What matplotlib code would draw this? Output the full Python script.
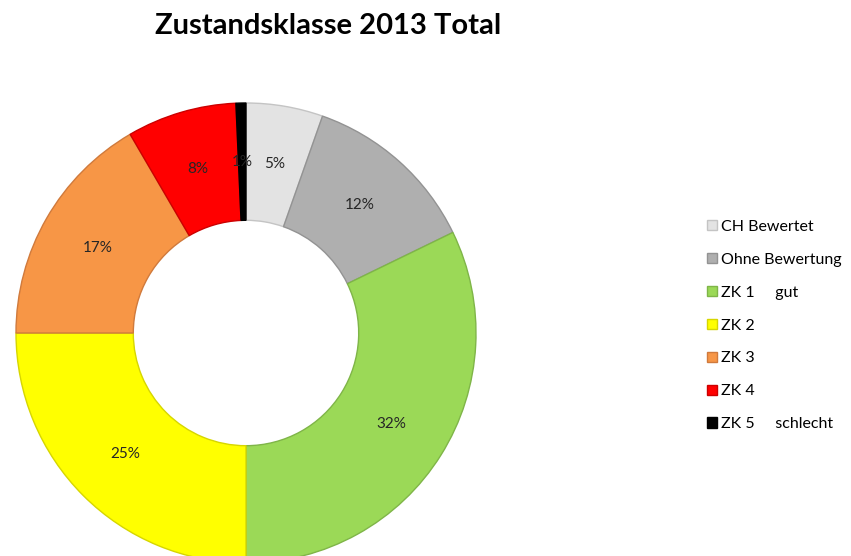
import matplotlib.pyplot as plt

plt.rcParams["font.family"] = ["Lato", "DejaVu Sans"]

categories = [
    "CH Bewertet",
    "Ohne Bewertung",
    "ZK 1     gut",
    "ZK 2",
    "ZK 3",
    "ZK 4",
    "ZK 5     schlecht",
]
shares = [5.4, 12.4, 32.2, 25.0, 16.6, 7.7, 0.7]
colors = ["#e3e3e3", "#afafaf", "#9bd957", "#ffff00", "#f79646", "#ff0000", "#000000"]
edges = ["#c4c4c4", "#939393", "#7fb548", "#d6d600", "#d07a3c", "#cc0000", "#000000"]

W, H = 851, 556
fig = plt.figure(figsize=(W / 100, H / 100), dpi=100)

# donut centre at about (246, 333) px, outer radius ~230 px
cx, cy, r = 246, 333, 230
ax = fig.add_axes([(cx - r) / W, (H - cy - r) / H, 2 * r / W, 2 * r / H])
wedges, _, autotexts = ax.pie(
    shares,
    colors=colors,
    startangle=90,
    counterclock=False,
    radius=1.0,
    wedgeprops=dict(width=0.51, linewidth=1.0),
    autopct="%.0f%%",
    pctdistance=0.745,
    textprops=dict(fontsize=11, color="#262626"),
)
for w, ec in zip(wedges, edges):
    w.set_edgecolor(ec)
ax.set_xlim(-1, 1)
ax.set_ylim(-1, 1)
ax.set_aspect("equal")
ax.axis("off")

fig.text(0.385, 1 - 26 / H, "Zustandsklasse 2013 Total", ha="center", va="center",
         fontsize=21, fontweight="bold")

fig.legend(
    wedges,
    categories,
    loc="upper left",
    bbox_to_anchor=(699 / W, 1 - 212 / H),
    frameon=False,
    fontsize=11.5,
    handlelength=0.6,
    handleheight=0.6,
    handletextpad=0.3,
    labelspacing=1.18,
    borderpad=0,
)

fig.savefig("out.png", dpi=100)
